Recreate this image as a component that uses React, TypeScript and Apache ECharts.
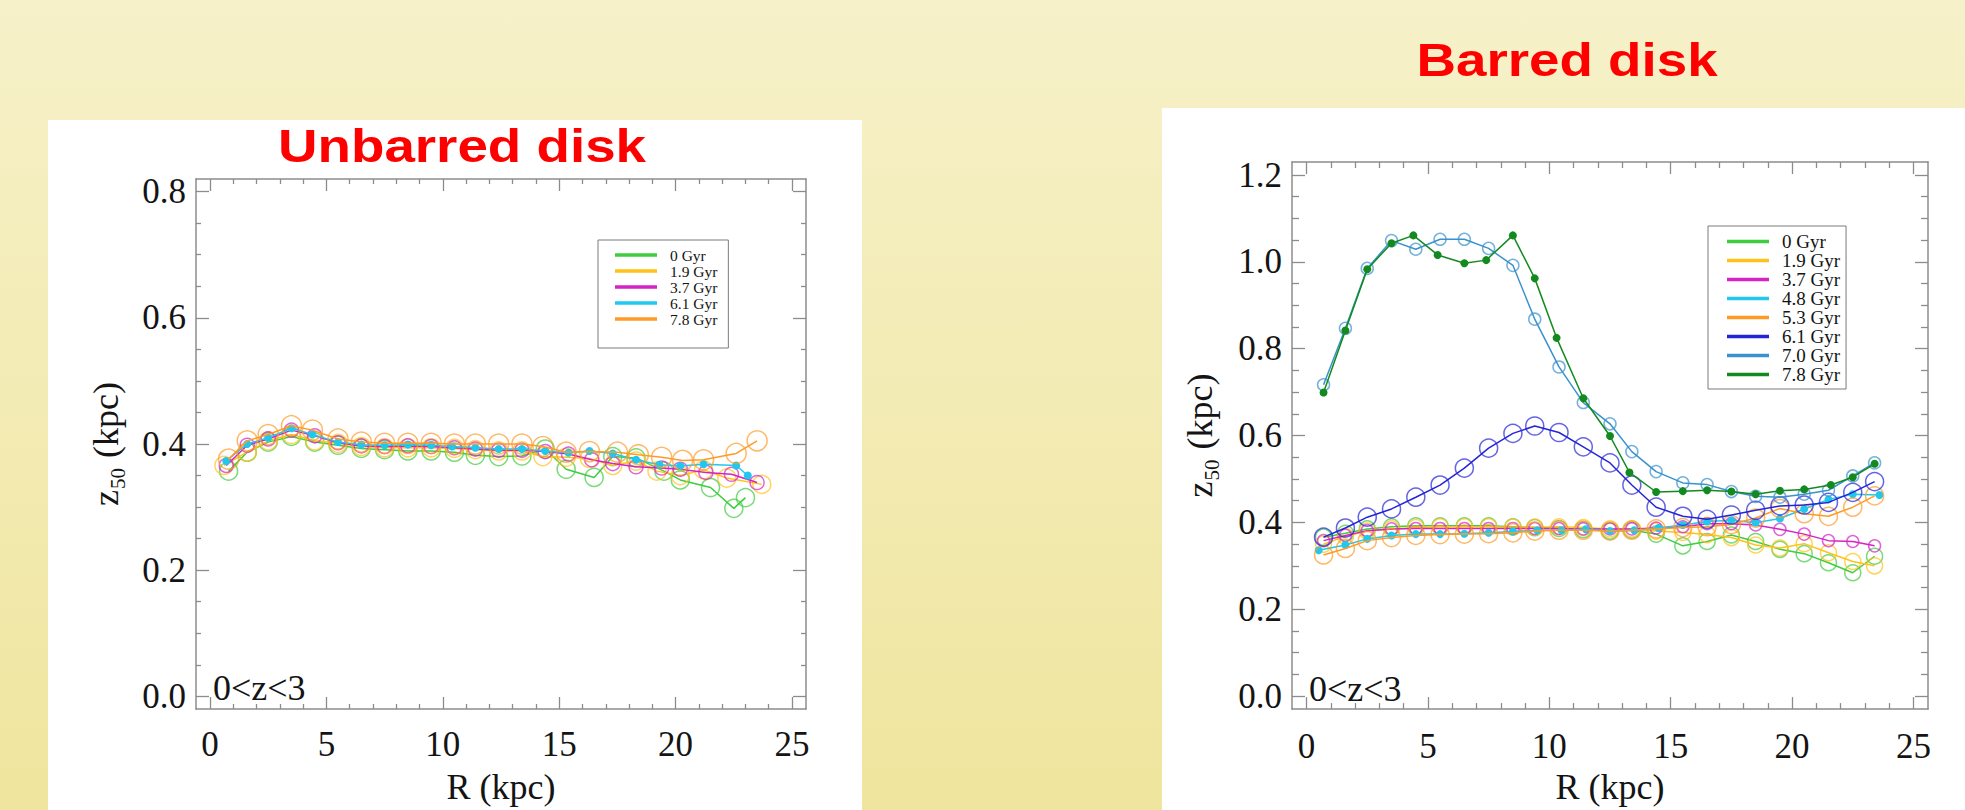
import React, { useEffect, useRef } from "react";
import * as echarts from "echarts";

// ---------------- Unbarred disk (left) ----------------
const U_NAMES = ["0 Gyr", "1.9 Gyr", "3.7 Gyr", "6.1 Gyr", "7.8 Gyr"];
const U_COLORS = ["#3fcc3f", "#ffc21a", "#d424c4", "#22c8ec", "#ff9a26"];
const U_SOLID = [false, false, false, true, false];
const U_SIZE = [18, 18, 14, 8, 20];

const U_R_0 = [0.8, 1.6, 2.5, 3.5, 4.5, 5.5, 6.5, 7.5, 8.5, 9.5, 10.5, 11.4, 12.4, 13.4, 14.4, 15.3, 16.5, 17.3, 18.3, 19.5, 20.2, 21.5, 22.5, 23.0];
const U_Z_0 = [0.357, 0.387, 0.403, 0.412, 0.403, 0.398, 0.393, 0.391, 0.389, 0.389, 0.387, 0.382, 0.380, 0.381, 0.392, 0.360, 0.347, 0.380, 0.378, 0.357, 0.343, 0.331, 0.298, 0.315];
const U_R_19 = [0.6, 1.6, 2.5, 3.5, 4.5, 5.5, 6.5, 7.5, 8.5, 9.5, 10.5, 11.4, 12.4, 13.4, 14.3, 15.3, 16.3, 17.3, 18.3, 19.2, 20.2, 21.2, 22.2, 23.7];
const U_Z_19 = [0.366, 0.387, 0.405, 0.415, 0.405, 0.401, 0.396, 0.394, 0.394, 0.394, 0.393, 0.391, 0.389, 0.389, 0.380, 0.379, 0.377, 0.366, 0.373, 0.357, 0.350, 0.359, 0.346, 0.336];
const U_R_37 = [0.7, 1.6, 2.5, 3.5, 4.5, 5.5, 6.5, 7.5, 8.5, 9.5, 10.5, 11.4, 12.4, 13.4, 14.4, 15.4, 16.4, 17.3, 18.3, 19.4, 20.2, 21.3, 22.4, 23.5];
const U_Z_37 = [0.366, 0.398, 0.408, 0.422, 0.413, 0.402, 0.397, 0.396, 0.397, 0.396, 0.394, 0.392, 0.390, 0.390, 0.388, 0.384, 0.375, 0.369, 0.364, 0.362, 0.360, 0.355, 0.352, 0.339];
const U_R_61 = [0.7, 1.6, 2.5, 3.5, 4.4, 5.5, 6.5, 7.5, 8.5, 9.5, 10.4, 11.4, 12.4, 13.4, 14.4, 15.4, 16.3, 17.3, 18.3, 19.3, 20.2, 21.2, 22.6, 23.1];
const U_Z_61 = [0.373, 0.400, 0.410, 0.425, 0.415, 0.403, 0.399, 0.398, 0.399, 0.398, 0.396, 0.394, 0.392, 0.392, 0.389, 0.386, 0.389, 0.385, 0.375, 0.367, 0.365, 0.368, 0.366, 0.350];
const U_R_78 = [0.8, 1.6, 2.5, 3.5, 4.4, 5.5, 6.5, 7.5, 8.5, 9.5, 10.5, 11.4, 12.4, 13.4, 14.3, 15.3, 16.3, 17.5, 18.4, 19.4, 20.3, 21.2, 22.6, 23.5];
const U_Z_78 = [0.376, 0.405, 0.415, 0.429, 0.422, 0.408, 0.403, 0.401, 0.401, 0.401, 0.400, 0.400, 0.400, 0.400, 0.396, 0.387, 0.388, 0.387, 0.383, 0.379, 0.374, 0.375, 0.385, 0.405];
const U_R = [U_R_0, U_R_19, U_R_37, U_R_61, U_R_78];
const U_Z = [U_Z_0, U_Z_19, U_Z_37, U_Z_61, U_Z_78];

// ---------------- Barred disk (right) ----------------
const B_NAMES = ["0 Gyr", "1.9 Gyr", "3.7 Gyr", "4.8 Gyr", "5.3 Gyr", "6.1 Gyr", "7.0 Gyr", "7.8 Gyr"];
const B_COLORS = ["#3fcc3f", "#ffc21a", "#d424c4", "#22c8ec", "#ff9a26", "#2424d8", "#3a92cc", "#138a1f"];
const B_SOLID = [false, false, false, true, false, false, false, true];
const B_SIZE = [16, 16, 12, 8, 18, 18, 12, 8];

const B_R = [0.7, 1.6, 2.5, 3.5, 4.5, 5.5, 6.5, 7.5, 8.5, 9.4, 10.4, 11.4, 12.5, 13.4, 14.4, 15.5, 16.5, 17.5, 18.5, 19.5, 20.5, 21.5, 22.5, 23.4];
const B_R_48 = [0.5, 1.6, 2.5, 3.5, 4.5, 5.5, 6.5, 7.5, 8.5, 9.5, 10.5, 11.5, 12.5, 13.5, 14.5, 15.5, 16.5, 17.5, 18.5, 19.5, 20.5, 21.5, 22.5, 23.6];
const B_R_78 = [0.7, 1.6, 2.5, 3.5, 4.4, 5.4, 6.5, 7.4, 8.5, 9.4, 10.3, 11.4, 12.5, 13.3, 14.4, 15.5, 16.5, 17.5, 18.5, 19.5, 20.5, 21.6, 22.5, 23.4];
const B_Z_0 = [0.366, 0.375, 0.385, 0.390, 0.392, 0.392, 0.392, 0.392, 0.390, 0.388, 0.386, 0.383, 0.380, 0.382, 0.373, 0.346, 0.356, 0.371, 0.356, 0.338, 0.328, 0.307, 0.284, 0.322];
const B_Z_19 = [0.350, 0.368, 0.380, 0.385, 0.388, 0.390, 0.390, 0.390, 0.389, 0.389, 0.390, 0.388, 0.385, 0.385, 0.380, 0.377, 0.372, 0.365, 0.348, 0.341, 0.351, 0.330, 0.310, 0.300];
const B_Z_37 = [0.358, 0.370, 0.381, 0.385, 0.386, 0.386, 0.386, 0.386, 0.386, 0.386, 0.386, 0.385, 0.385, 0.385, 0.387, 0.390, 0.397, 0.397, 0.394, 0.384, 0.373, 0.358, 0.356, 0.346];
const B_Z_48 = [0.336, 0.348, 0.362, 0.370, 0.373, 0.373, 0.374, 0.376, 0.379, 0.382, 0.382, 0.384, 0.380, 0.382, 0.387, 0.394, 0.402, 0.405, 0.399, 0.409, 0.431, 0.453, 0.465, 0.463];
const B_Z_53 = [0.325, 0.340, 0.358, 0.365, 0.370, 0.372, 0.373, 0.374, 0.376, 0.380, 0.382, 0.382, 0.380, 0.382, 0.385, 0.388, 0.390, 0.395, 0.410, 0.432, 0.420, 0.414, 0.435, 0.461];
const B_Z_61 = [0.366, 0.387, 0.412, 0.431, 0.458, 0.486, 0.525, 0.571, 0.605, 0.622, 0.607, 0.574, 0.537, 0.486, 0.435, 0.414, 0.407, 0.417, 0.428, 0.438, 0.440, 0.446, 0.469, 0.494];
const B_Z_70 = [0.717, 0.847, 0.985, 1.049, 1.029, 1.052, 1.052, 1.031, 0.992, 0.868, 0.758, 0.676, 0.627, 0.563, 0.517, 0.491, 0.487, 0.471, 0.460, 0.458, 0.465, 0.474, 0.507, 0.537];
const B_Z_78 = [0.699, 0.842, 0.983, 1.043, 1.061, 1.016, 0.997, 1.004, 1.061, 0.962, 0.825, 0.686, 0.599, 0.515, 0.470, 0.472, 0.474, 0.471, 0.465, 0.473, 0.476, 0.486, 0.504, 0.535];
const B_RS = [B_R, B_R, B_R, B_R_48, B_R, B_R, B_R, B_R_78];
const B_Z = [B_Z_0, B_Z_19, B_Z_37, B_Z_48, B_Z_53, B_Z_61, B_Z_70, B_Z_78];

// ---------------- ticks ----------------
const X_MAJOR = [0, 5, 10, 15, 20, 25];
const X_MINOR = [1, 2, 3, 4, 6, 7, 8, 9, 11, 12, 13, 14, 16, 17, 18, 19, 21, 22, 23, 24];
const U_Y_MAJOR = [0, 0.2, 0.4, 0.6, 0.8];
const U_Y_MINOR = [0.05, 0.1, 0.15, 0.25, 0.3, 0.35, 0.45, 0.5, 0.55, 0.65, 0.7, 0.75];
const B_Y_MAJOR = [0, 0.2, 0.4, 0.6, 0.8, 1.0, 1.2];
const B_Y_MINOR = [0.05, 0.1, 0.15, 0.25, 0.3, 0.35, 0.45, 0.5, 0.55, 0.65, 0.7, 0.75, 0.85, 0.9, 0.95, 1.05, 1.1, 1.15];

const SERIF = "'Liberation Serif', 'Times New Roman', serif";
const SANS = "'Liberation Sans', Arial, sans-serif";
const AX = "#8c8c8c";
const TXT = "#141414";

function hexA(hex: string, a: number) {
  const n = parseInt(hex.slice(1), 16);
  return `rgba(${(n >> 16) & 255},${(n >> 8) & 255},${n & 255},${a})`;
}

function axisSet(dim: "x" | "y", gridIndex: number, min: number, max: number, majors: number[], minors: number[], opts: any) {
  const base: any = { type: "value", gridIndex, min, max, splitLine: { show: false }, scale: false };
  const pos = dim === "x" ? ["bottom", "top"] : ["left", "right"];
  const line = { show: true, onZero: false, lineStyle: { color: AX, width: 1.5 } };
  const noLine = { show: false, onZero: false };
  const tick = (vals: number[], len: number) => ({ show: true, inside: true, length: len, customValues: vals, lineStyle: { color: AX, width: 1.3 } });
  return [
    {
      ...base, position: pos[0], axisLine: line, axisTick: tick(majors, opts.majorLen),
      axisLabel: {
        show: true, customValues: majors, fontFamily: SERIF, fontSize: 35, color: TXT, margin: opts.labelMargin,
        formatter: dim === "y" ? (v: number) => v.toFixed(1) : (v: number) => String(v),
      },
      name: opts.name, nameLocation: "middle", nameGap: opts.nameGap, nameRotate: dim === "y" ? 90 : 0,
      nameTextStyle: opts.nameTextStyle,
    },
    { ...base, position: pos[0], axisLine: noLine, axisTick: tick(minors, opts.minorLen), axisLabel: { show: false } },
    { ...base, position: pos[1], axisLine: line, axisTick: tick(majors, opts.majorLen), axisLabel: { show: false } },
    { ...base, position: pos[1], axisLine: noLine, axisTick: tick(minors, opts.minorLen), axisLabel: { show: false } },
  ];
}

const yNameStyle = {
  fontFamily: SERIF, fontSize: 36, color: TXT,
  rich: {
    z: { fontFamily: SERIF, fontSize: 36, lineHeight: 36, color: TXT, verticalAlign: "top" },
    s: { fontFamily: SERIF, fontSize: 21, lineHeight: 21, color: TXT, verticalAlign: "top", padding: [19, 1, 0, 1] },
    k: { fontFamily: SERIF, fontSize: 36, lineHeight: 36, color: TXT, verticalAlign: "top" },
  },
};
const xNameStyle = { fontFamily: SERIF, fontSize: 36, color: TXT };

function makeSeries(names: string[], rs: number[][], zs: number[][], colors: string[], solid: boolean[], sizes: number[], xi: number, yi: number) {
  return names.map((name, i) => ({
    type: "line", name, xAxisIndex: xi, yAxisIndex: yi,
    data: rs[i].map((r, j) => [r, zs[i][j]]),
    symbol: "circle", symbolSize: sizes[i], showSymbol: true,
    lineStyle: { color: colors[i], width: 1.5 },
    itemStyle: solid[i]
      ? { color: colors[i], borderWidth: 0 }
      : { color: "rgba(255,255,255,0)", borderColor: hexA(colors[i], 0.7), borderWidth: 1.5 },
    emphasis: { disabled: true },
    z: 3 + i,
  }));
}

function legendData(names: string[], colors: string[]) {
  return names.map((n, i) => ({ name: n, icon: "rect", itemStyle: { color: colors[i], borderWidth: 0 } }));
}

export default function App() {
  const ref = useRef<HTMLDivElement>(null);
  useEffect(() => {
    if (!ref.current) return;
    const chart = echarts.init(ref.current, undefined, { renderer: "svg" });
    const xAxes = [
      ...axisSet("x", 0, -0.6, 25.6, X_MAJOR, X_MINOR, { majorLen: 12, minorLen: 5, labelMargin: 18, name: "R (kpc)", nameGap: 60, nameTextStyle: xNameStyle }),
      ...axisSet("x", 1, -0.6, 25.6, X_MAJOR, X_MINOR, { majorLen: 12, minorLen: 6, labelMargin: 20, name: "R (kpc)", nameGap: 58, nameTextStyle: xNameStyle }),
    ];
    const yAxes = [
      ...axisSet("y", 0, -0.02, 0.82, U_Y_MAJOR, U_Y_MINOR, { majorLen: 13, minorLen: 5, labelMargin: 10, name: "{z|z}{s|50}{k| (kpc)}", nameGap: 72, nameTextStyle: yNameStyle }),
      ...axisSet("y", 1, -0.03, 1.23, B_Y_MAJOR, B_Y_MINOR, { majorLen: 13, minorLen: 7, labelMargin: 10, name: "{z|z}{s|50}{k| (kpc)}", nameGap: 74, nameTextStyle: yNameStyle }),
    ];
    const legendCommon: any = {
      orient: "vertical", itemWidth: 42, itemHeight: 3.5, itemGap: 0, selectedMode: false,
      borderColor: "#7a7a7a", borderWidth: 1, backgroundColor: "#ffffff", borderRadius: 0,
    };
    chart.setOption({
      animation: false,
      backgroundColor: {
        type: "linear", x: 0, y: 0, x2: 0, y2: 1,
        colorStops: [{ offset: 0, color: "#f6f1c9" }, { offset: 1, color: "#efe59e" }],
      },
      grid: [
        { left: 196, top: 179, width: 610, height: 533 },
        { left: 1292, top: 162, width: 636, height: 555 },
      ],
      xAxis: xAxes,
      yAxis: yAxes,
      legend: [
        {
          ...legendCommon, left: 598, top: 240, padding: [7, 11, 21, 17],
          data: legendData(U_NAMES, U_COLORS),
          textStyle: { fontFamily: SERIF, fontSize: 15.5, lineHeight: 14.5, color: TXT, padding: [0, 0, 0, 8] },
        },
        {
          ...legendCommon, left: 1708, top: 226, padding: [6, 6, 5, 19],
          data: legendData(B_NAMES, B_COLORS),
          textStyle: { fontFamily: SERIF, fontSize: 19, lineHeight: 19, color: TXT, padding: [0, 0, 0, 8] },
        },
      ],
      graphic: [
        { type: "rect", z: -10, shape: { x: 48, y: 120, width: 814, height: 700 }, style: { fill: "#ffffff" } },
        { type: "rect", z: -10, shape: { x: 1162, y: 108, width: 810, height: 710 }, style: { fill: "#ffffff" } },
        {
          type: "text", x: 462, y: 146, scaleX: 1.19, z: 10,
          style: { text: "Unbarred disk", fontFamily: SANS, fontWeight: "bold", fontSize: 46, fill: "#ff0000", align: "center", verticalAlign: "middle" },
        },
        {
          type: "text", x: 1567, y: 60, scaleX: 1.19, z: 10,
          style: { text: "Barred disk", fontFamily: SANS, fontWeight: "bold", fontSize: 46, fill: "#ff0000", align: "center", verticalAlign: "middle" },
        },
        {
          type: "text", x: 213, y: 688, z: 10,
          style: { text: "0<z<3", fontFamily: SERIF, fontSize: 36, fill: TXT, align: "left", verticalAlign: "middle" },
        },
        {
          type: "text", x: 1309, y: 689, z: 10,
          style: { text: "0<z<3", fontFamily: SERIF, fontSize: 36, fill: TXT, align: "left", verticalAlign: "middle" },
        },
      ],
      series: [
        ...makeSeries(U_NAMES, U_R, U_Z, U_COLORS, U_SOLID, U_SIZE, 0, 0),
        ...makeSeries(B_NAMES, B_RS, B_Z, B_COLORS, B_SOLID, B_SIZE, 4, 4),
      ],
    });
    return () => chart.dispose();
  }, []);
  return (
    <div style={{ position: "fixed", left: 0, top: 0, width: 1965, height: 810 }}>
      <div ref={ref} style={{ width: 1965, height: 810 }} />
    </div>
  );
}
